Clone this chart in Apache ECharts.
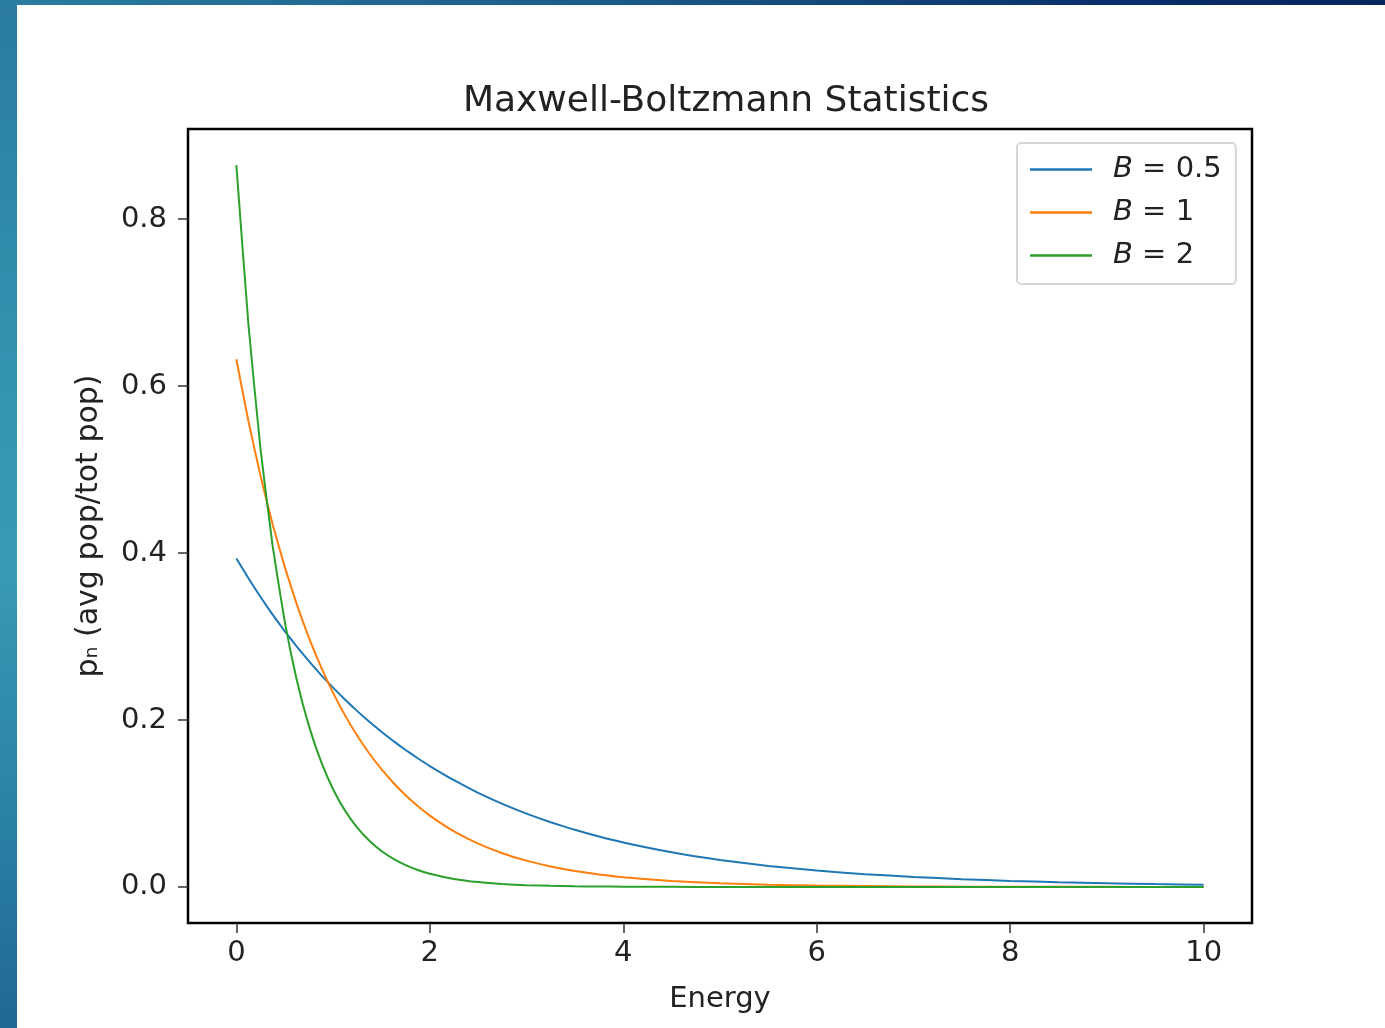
<!DOCTYPE html>
<html>
<head>
<meta charset="utf-8">
<script src="https://cdn.jsdelivr.net/npm/echarts@6/dist/echarts.min.js"></script>
<style>
  html, body { margin: 0; padding: 0; width: 1385px; height: 1028px; overflow: hidden; }
  body {
    background:
      linear-gradient(to right, #2a7da0 0%, #1a5a88 45%, #0a2f6a 80%, #062660 100%) top left / 100% 5px no-repeat,
      linear-gradient(to bottom, #2a7b9e 0%, #3596b2 40%, #3a9ab4 55%, #2a80a4 80%, #206896 100%);
  }
  #chart { position: absolute; left: 17px; top: 5px; width: 1368px; height: 1023px; background: #fff; }
</style>
</head>
<body>
<div id="chart"></div>
<script>
// Energy levels (x) and normalised populations p_n for three values of B
const energy = [0, 0.125, 0.25, 0.375, 0.5, 0.625, 0.75, 0.875, 1, 1.125, 1.25, 1.375, 1.5, 1.625, 1.75, 1.875, 2,
  2.25, 2.5, 2.75, 3, 3.25, 3.5, 3.75, 4,
  4.5, 5, 5.5, 6, 6.5, 7, 7.5, 8, 8.5, 9, 9.5, 10];

const popB05 = [0.3935, 0.3697, 0.3473, 0.3262, 0.3065, 0.2879, 0.2704, 0.2540, 0.2387, 0.2242, 0.2106, 0.1979, 0.1859, 0.1746, 0.1640, 0.1541, 0.1448,
  0.1278, 0.1127, 0.0995, 0.0878, 0.0775, 0.0684, 0.0604, 0.0533,
  0.0415, 0.0323, 0.0252, 0.0196, 0.0153, 0.0119, 0.0093, 0.0072, 0.0056, 0.0044, 0.0034, 0.0027];

const popB1 = [0.6321, 0.5578, 0.4923, 0.4344, 0.3834, 0.3384, 0.2986, 0.2635, 0.2325, 0.2052, 0.1811, 0.1598, 0.1410, 0.1245, 0.1098, 0.0969, 0.0855,
  0.0666, 0.0519, 0.0404, 0.0315, 0.0245, 0.0191, 0.0149, 0.0116,
  0.0070, 0.0043, 0.0026, 0.0016, 0.0010, 0.0006, 0.0003, 0.0002, 0.0001, 0.0001, 0.0000, 0.0000];

const popB2 = [0.8647, 0.6734, 0.5244, 0.4085, 0.3181, 0.2477, 0.1929, 0.1503, 0.1170, 0.0911, 0.0710, 0.0553, 0.0430, 0.0336, 0.0261, 0.0203, 0.0158,
  0.0096, 0.0058, 0.0035, 0.0021, 0.0013, 0.0008, 0.0005, 0.0003,
  0.0001, 0.0000, 0.0000, 0.0000, 0.0000, 0.0000, 0.0000, 0.0000, 0.0000, 0.0000, 0.0000, 0.0000];

const seriesNames = ['B = 0.5', 'B = 1', 'B = 2'];
const seriesColors = ['#1f77b4', '#ff7f0e', '#2ca02c'];
const xTicks = [0, 2, 4, 6, 8, 10];
const yTicks = [0, 0.2, 0.4, 0.6, 0.8];

const FONT = 'DejaVu Sans';
const TEXT = '#222';

const pairs = ys => energy.map((e, i) => [e, ys[i]]);
const seriesValues = [popB05, popB1, popB2];

const chart = echarts.init(document.getElementById('chart'), null, { renderer: 'canvas' });

chart.setOption({
  animation: false,
  backgroundColor: '#fff',
  textStyle: { fontFamily: FONT, color: TEXT },
  title: {
    text: 'Maxwell-Boltzmann Statistics',
    left: 704,
    textAlign: 'center',
    top: 74,
    textStyle: { fontFamily: FONT, fontSize: 36, fontWeight: 'normal', color: TEXT }
  },
  legend: {
    orient: 'vertical',
    left: 1000,
    top: 138,
    padding: [12, 14, 14, 13],
    icon: 'rect',
    itemWidth: 62,
    itemHeight: 2.5,
    itemGap: 14,
    selectedMode: false,
    backgroundColor: '#fff',
    borderColor: '#d6d6d6',
    borderWidth: 2,
    borderRadius: 4,
    data: seriesNames,
    formatter: name => '{i|B}{t|' + name.slice(1) + '}',
    textStyle: {
      padding: [0, 0, 0, 16],
      rich: {
        i: { fontFamily: FONT, fontSize: 29, fontStyle: 'italic', color: TEXT, lineHeight: 30 },
        t: { fontFamily: FONT, fontSize: 29, color: TEXT, lineHeight: 30 }
      }
    }
  },
  grid: {
    left: 171,
    right: 133,
    top: 124,
    bottom: 105,
    show: true,
    borderColor: '#000',
    borderWidth: 2.5,
    backgroundColor: 'transparent'
  },
  xAxis: {
    type: 'value',
    min: -0.5,
    max: 10.5,
    name: 'Energy',
    nameLocation: 'middle',
    nameGap: 62,
    nameTextStyle: { fontFamily: FONT, fontSize: 29, color: TEXT },
    axisLine: { show: false, onZero: false },
    axisTick: { show: true, length: 10, lineStyle: { color: '#333', width: 1.5 }, customValues: xTicks },
    axisLabel: { fontFamily: FONT, fontSize: 29, color: TEXT, margin: 16, customValues: xTicks },
    splitLine: { show: false }
  },
  yAxis: {
    type: 'value',
    min: -0.0432,
    max: 0.9079,
    name: 'pₙ (avg pop/tot pop)',
    nameLocation: 'middle',
    nameRotate: 90,
    nameGap: 84,
    nameTextStyle: { fontFamily: FONT, fontSize: 30, color: TEXT },
    axisLine: { show: false, onZero: false },
    axisTick: { show: true, length: 10, lineStyle: { color: '#333', width: 1.5 }, customValues: yTicks },
    axisLabel: {
      fontFamily: FONT, fontSize: 29, color: TEXT, margin: 21,
      customValues: yTicks,
      formatter: v => v.toFixed(1)
    },
    splitLine: { show: false }
  },
  series: seriesValues.map((ys, k) => ({
    name: seriesNames[k],
    type: 'line',
    data: pairs(ys),
    smooth: 0.15,
    symbol: 'none',
    clip: true,
    lineStyle: { color: seriesColors[k], width: 2 },
    itemStyle: { color: seriesColors[k] }
  }))
});
</script>
</body>
</html>
